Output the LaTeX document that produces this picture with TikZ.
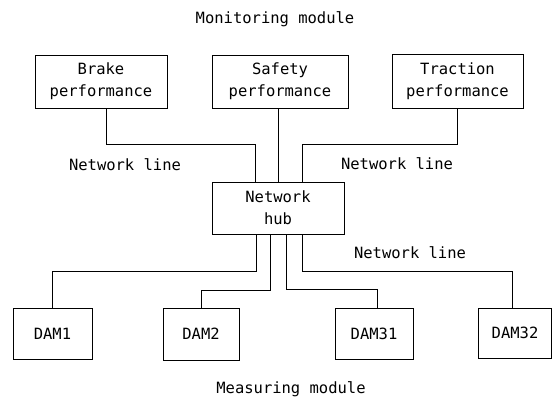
\documentclass[tikz,border=0pt]{standalone}
\usepackage{fontspec}
\newfontfamily\diagfont{DejaVu Sans Mono}
\usetikzlibrary{positioning}

\tikzset{
  modbox/.style={draw, line width=0.8pt, inner sep=0pt, align=center},
  netline/.style={draw, line width=0.8pt},
  lbl/.style={inner sep=0pt}
}

\begin{document}
\begin{tikzpicture}[x=1pt, y=-1pt, font=\diagfont\fontsize{15.5}{22}\selectfont]
  \useasboundingbox (0,0) rectangle (553,399);

  % Monitoring module
  \node[lbl] (montitle) at (275, 19) {Monitoring module};
  \node[modbox, minimum width=132pt, minimum height=53pt] (brake) at (101, 81.5) {Brake\\performance};
  \node[modbox, minimum width=136pt, minimum height=53pt] (safety) at (280, 81.5) {Safety\\performance};
  \node[modbox, minimum width=131pt, minimum height=54pt] (traction) at (457.5, 81) {Traction\\performance};

  % Hub
  \node[modbox, minimum width=132pt, minimum height=52pt] (hub) at (278, 208) {Network\\hub};

  % Measuring module
  \node[modbox, minimum width=79pt, minimum height=51pt] (dam1) at (52.5, 333.5) {DAM1};
  \node[modbox, minimum width=76pt, minimum height=52pt] (dam2) at (201, 334) {DAM2};
  \node[modbox, minimum width=78pt, minimum height=51pt] (dam31) at (374, 333.5) {DAM31};
  \node[modbox, minimum width=73pt, minimum height=50pt] (dam32) at (515, 333) {DAM32};
  \node[lbl] (meastitle) at (291, 389) {Measuring module};

  % Network lines, upper side
  \draw[netline] ([xshift=5pt]brake.south) -- ++(0,36) -| ([xshift=-23pt]hub.north);
  \draw[netline] (safety.south -| hub.north) -- (hub.north);
  \draw[netline] (traction.south) -- ++(0,36) -| ([xshift=24pt]hub.north);

  % Network lines, lower side
  \draw[netline] ([xshift=-22pt]hub.south) -- ++(0,37) -| (dam1.north);
  \draw[netline] ([xshift=-8pt]hub.south) -- ++(0,56) -| (dam2.north);
  \draw[netline] ([xshift=8pt]hub.south) -- ++(0,55) -| ([xshift=3pt]dam31.north);
  \draw[netline] ([xshift=24pt]hub.south) -- ++(0,37) -| ([xshift=-3pt]dam32.north);

  \node[lbl] (lineleft) at (125, 165) {Network line};
  \node[lbl] (lineright) at (397, 164) {Network line};
  \node[lbl] (linelow) at (410, 253) {Network line};
\end{tikzpicture}
\end{document}
